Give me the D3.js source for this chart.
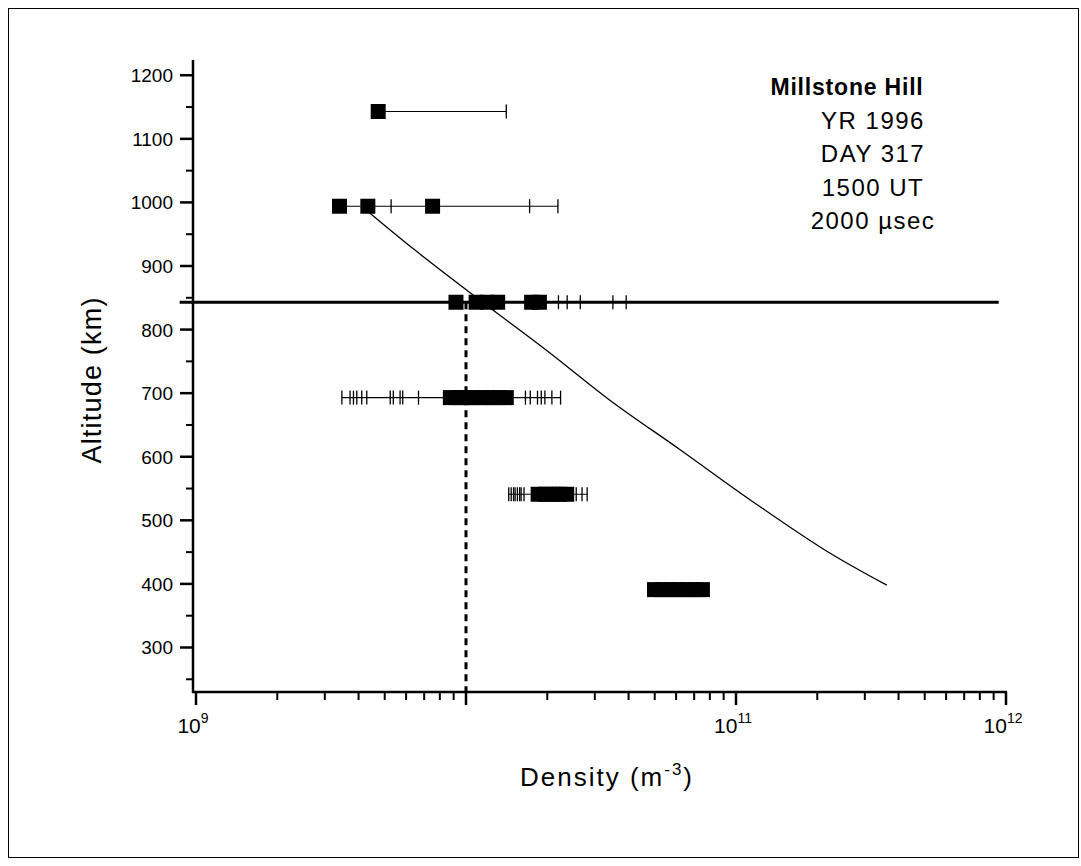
<!DOCTYPE html>
<html>
<head>
<meta charset="utf-8">
<script src="https://cdn.jsdelivr.net/npm/d3@7"></script>
<style>
  body { margin: 0; background: #fff; }
  svg { font-family: "Liberation Sans", Arial, sans-serif; }
</style>
</head>
<body>
<div id="chart"></div>
<script>
const width = 1081;
const height = 866;

// altitude (km) of each measurement row
const rowAltitudes = [1143, 994, 843, 693, 541, 391];
// densities (m^-3) of the square markers in each row
const squareDensities = [
    [4.73e9],
    [3.40e9, 4.33e9, 7.52e9],
    [9.18e9, 1.09e10, 1.20e10, 1.31e10, 1.75e10, 1.87e10],
    [8.75e9, 9.35e9, 1.00e10, 1.07e10, 1.15e10, 1.23e10, 1.32e10, 1.41e10],
    [1.85e10, 1.97e10, 2.09e10, 2.22e10, 2.36e10],
    [4.99e10, 5.34e10, 5.72e10, 6.12e10, 6.56e10, 7.02e10, 7.51e10]
];
// densities of the error bar caps in each row
const capDensities = [
    [1.41e10],
    [5.28e9, 1.72e10, 2.19e10],
    [2.20e10, 2.37e10, 2.65e10, 3.50e10, 3.92e10],
    [3.47e9, 3.72e9, 3.83e9, 3.94e9, 4.11e9, 4.29e9, 5.24e9, 5.38e9, 5.70e9, 5.83e9, 6.67e9,
     1.66e10, 1.73e10, 1.84e10, 1.90e10, 1.96e10, 2.08e10, 2.24e10],
    [1.44e10, 1.47e10, 1.50e10, 1.52e10, 1.55e10, 1.58e10, 1.60e10, 1.64e10, 2.56e10, 2.69e10, 2.81e10],
    []
];

// model profile
const curveAltitudes = [983, 925, 847, 768, 689, 611, 532, 453, 398];
const curveDensities = [4.41e9, 6.47e9, 1.12e10, 1.98e10, 3.41e10, 6.21e10, 1.13e11, 2.14e11, 3.62e11];

// reference lines
const refAltitude = 843;
const refLineDensities = [8.7e8, 9.4e11];
const refDensity = 1e10;

const yTicks = [300, 400, 500, 600, 700, 800, 900, 1000, 1100, 1200];
const xTickExponents = [9, 11, 12];
const infoLines = ["YR 1996", "DAY 317", "1500 UT", "2000 \u00b5sec"];

const svg = d3.select("#chart").append("svg")
    .attr("width", width)
    .attr("height", height);

svg.append("rect")
    .attr("x", 8.5).attr("y", 8.5)
    .attr("width", 1070).attr("height", 849)
    .attr("fill", "none").attr("stroke", "#000").attr("stroke-width", 1);

const x = d3.scaleLog().domain([1e9, 1e12]).range([196, 1006]);
const y = d3.scaleLinear().domain([230, 1224]).range([692, 60]);

// axes
const minorY = d3.range(250, 1224, 100);
const yAxis = svg.append("g").attr("transform", "translate(193,0)");
yAxis.append("line").attr("y1", 60).attr("y2", 693).attr("stroke", "#000").attr("stroke-width", 2.5);
yAxis.selectAll(".major").data(yTicks).enter().append("line")
    .attr("x1", -13).attr("x2", 0).attr("y1", d => y(d)).attr("y2", d => y(d))
    .attr("stroke", "#000").attr("stroke-width", 2.5);
yAxis.selectAll(".minor").data(minorY).enter().append("line")
    .attr("x1", -7).attr("x2", 0).attr("y1", d => y(d)).attr("y2", d => y(d))
    .attr("stroke", "#000").attr("stroke-width", 2);
yAxis.selectAll("text").data(yTicks).enter().append("text")
    .attr("x", -20).attr("y", d => y(d) + 7)
    .attr("text-anchor", "end").attr("font-size", 19)
    .text(d => d);

const minorX = [];
[9, 10, 11].forEach(e => { for (let k = 2; k <= 9; k++) minorX.push(k * Math.pow(10, e)); });
const xAxis = svg.append("g").attr("transform", "translate(0,692)");
xAxis.append("line").attr("x1", 192).attr("x2", x(1e12) + 1).attr("stroke", "#000").attr("stroke-width", 2.5);
xAxis.selectAll(".major").data([1e9, 1e10, 1e11, 1e12]).enter().append("line")
    .attr("x1", d => x(d)).attr("x2", d => x(d)).attr("y1", 0).attr("y2", 13)
    .attr("stroke", "#000").attr("stroke-width", 2.5);
xAxis.selectAll(".minor").data(minorX).enter().append("line")
    .attr("x1", d => x(d)).attr("x2", d => x(d)).attr("y1", 0).attr("y2", 8)
    .attr("stroke", "#000").attr("stroke-width", 2);
const xl = xAxis.selectAll("text").data(xTickExponents).enter().append("text")
    .attr("x", d => x(Math.pow(10, d)) - 3).attr("y", 41)
    .attr("text-anchor", "middle").attr("font-size", 21);
xl.append("tspan").text("10");
xl.append("tspan").attr("dy", -10).attr("font-size", 14).text(d => d);

// titles
svg.append("text")
    .attr("transform", "translate(101,380) rotate(-90)")
    .attr("text-anchor", "middle").attr("font-size", 27).attr("letter-spacing", 1.2)
    .text("Altitude (km)");
const xt = svg.append("text")
    .attr("x", 607).attr("y", 786)
    .attr("text-anchor", "middle").attr("font-size", 26).attr("letter-spacing", 2);
xt.append("tspan").text("Density (m");
xt.append("tspan").attr("dy", -11).attr("font-size", 17).text("-3");
xt.append("tspan").attr("dy", 11).text(")");

// reference lines
svg.append("line")
    .attr("x1", x(refLineDensities[0])).attr("x2", x(refLineDensities[1]))
    .attr("y1", y(refAltitude)).attr("y2", y(refAltitude))
    .attr("stroke", "#000").attr("stroke-width", 3);
svg.append("line")
    .attr("x1", x(refDensity)).attr("x2", x(refDensity))
    .attr("y1", y(refAltitude)).attr("y2", 692)
    .attr("stroke", "#000").attr("stroke-width", 3)
    .attr("stroke-dasharray", "7,5");

// model curve
const curve = d3.line()
    .x(d => x(d[0])).y(d => y(d[1]))
    .curve(d3.curveCatmullRom);
svg.append("path")
    .datum(curveDensities.map((d, i) => [d, curveAltitudes[i]]))
    .attr("d", curve)
    .attr("fill", "none").attr("stroke", "#000").attr("stroke-width", 1.3);

// measurements
const rows = svg.selectAll(".row")
    .data(rowAltitudes.map((a, i) => ({ alt: a, squares: squareDensities[i], caps: capDensities[i] })))
    .enter().append("g").attr("class", "row");

rows.append("line")
    .attr("x1", d => x(d3.min(d.squares.concat(d.caps))))
    .attr("x2", d => x(d3.max(d.squares.concat(d.caps))))
    .attr("y1", d => y(d.alt)).attr("y2", d => y(d.alt))
    .attr("stroke", "#000").attr("stroke-width", 1.2);

rows.selectAll(".cap").data(d => d.caps.map(c => [c, d.alt])).enter().append("line")
    .attr("x1", d => x(d[0])).attr("x2", d => x(d[0]))
    .attr("y1", d => y(d[1]) - 7).attr("y2", d => y(d[1]) + 7)
    .attr("stroke", "#000").attr("stroke-width", 1.3);

const sq = 15;
rows.selectAll(".sq").data(d => d.squares.map(s => [s, d.alt])).enter().append("rect")
    .attr("x", d => x(d[0]) - sq / 2).attr("y", d => y(d[1]) - sq / 2)
    .attr("width", sq).attr("height", sq)
    .attr("fill", "#000");

// info text
svg.append("text")
    .attr("x", 847).attr("y", 95)
    .attr("text-anchor", "middle").attr("font-size", 23).attr("font-weight", "bold")
    .attr("letter-spacing", 0.8)
    .text("Millstone Hill");
svg.selectAll(".info").data(infoLines).enter().append("text")
    .attr("x", 873).attr("y", (d, i) => 129 + i * 33.3)
    .attr("text-anchor", "middle").attr("font-size", 24).attr("letter-spacing", 1.5)
    .text(d => d);
</script>
</body>
</html>
